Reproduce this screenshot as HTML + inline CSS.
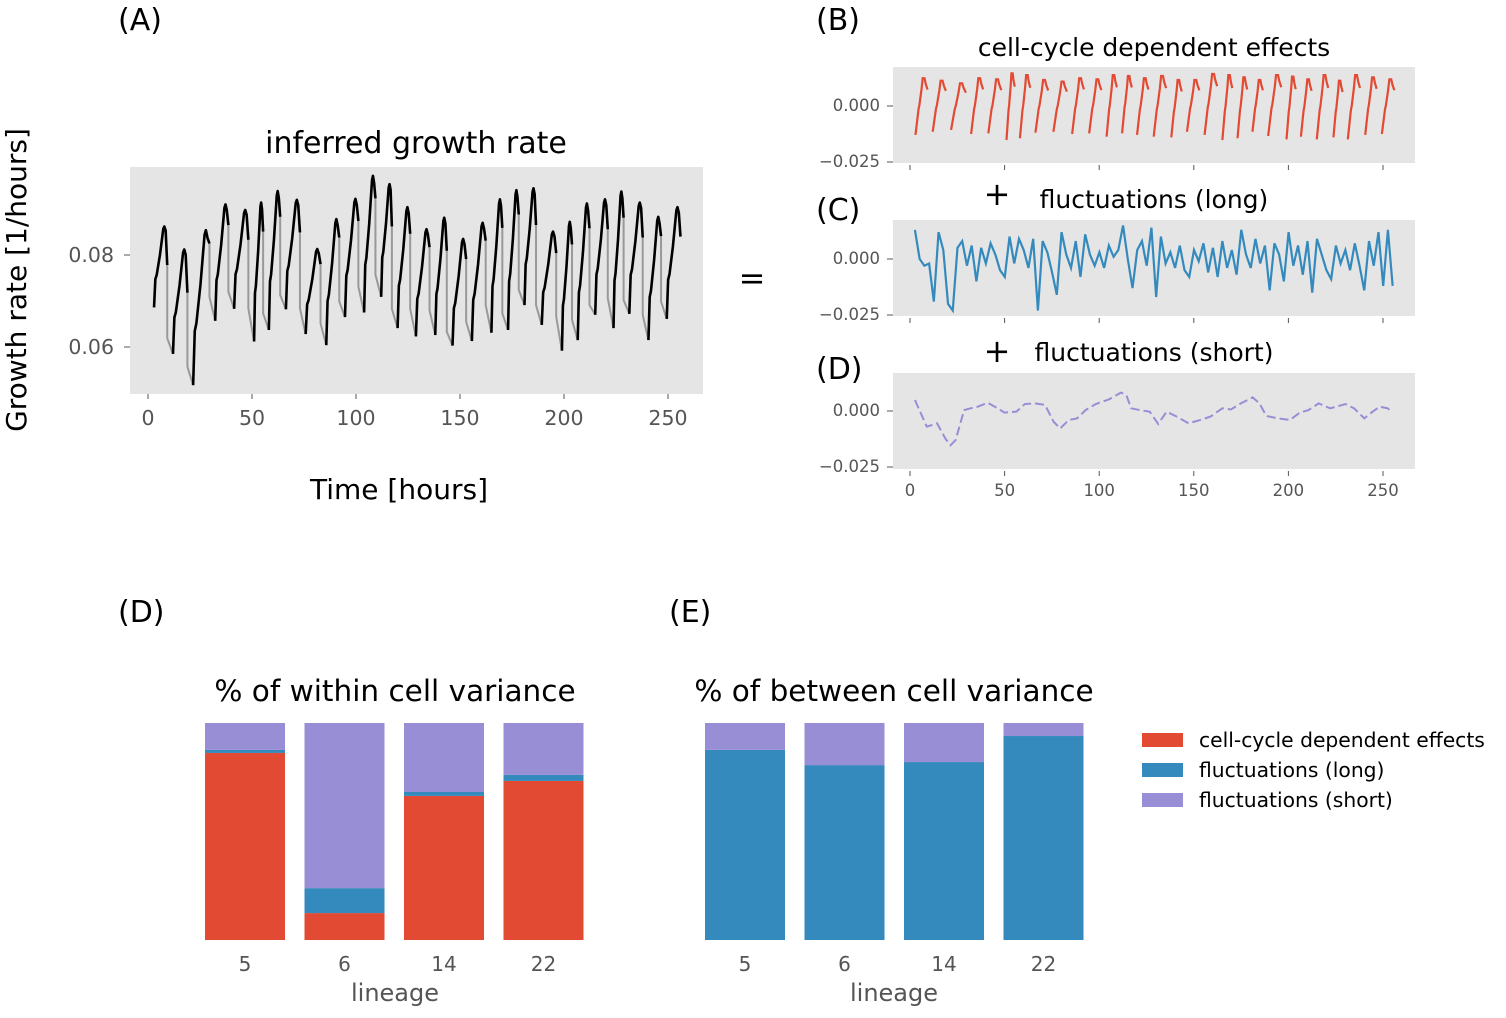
<!DOCTYPE html>
<html><head><meta charset="utf-8">
<style>
html,body{margin:0;padding:0;background:#fff;}
svg{display:block;font-family:"DejaVu Sans","Liberation Sans",sans-serif;}
</style></head>
<body>
<svg id="fig" width="1506" height="1018" viewBox="0 0 1506 1018">
<rect width="1506" height="1018" fill="#fff"/>
<g id="static">
<text x="118" y="30" font-size="30">(A)</text>
<text x="816" y="30" font-size="30">(B)</text>
<text x="816" y="220" font-size="30">(C)</text>
<text x="816" y="379" font-size="30">(D)</text>
<text x="118" y="622" font-size="30">(D)</text>
<text x="669" y="622" font-size="30">(E)</text>
<text x="416" y="153" font-size="30" text-anchor="middle">inferred growth rate</text>
<text x="1154" y="56" font-size="25" text-anchor="middle">cell-cycle dependent effects</text>
<text x="997" y="205" font-size="32" text-anchor="middle">+</text>
<text x="1154" y="208" font-size="25" text-anchor="middle">fluctuations (long)</text>
<text x="997" y="362" font-size="32" text-anchor="middle">+</text>
<text x="1154" y="361" font-size="25" text-anchor="middle">fluctuations (short)</text>
<text x="752" y="289" font-size="32" text-anchor="middle">=</text>
<text x="399" y="499" font-size="28" text-anchor="middle">Time [hours]</text>
<text transform="translate(26,280) rotate(-90)" font-size="28" text-anchor="middle">Growth rate [1/hours]</text>
<text x="395" y="701" font-size="29.5" text-anchor="middle">% of within cell variance</text>
<text x="894" y="701" font-size="29.5" text-anchor="middle">% of between cell variance</text>
<text x="395" y="1001" font-size="24" fill="#555" text-anchor="middle">lineage</text>
<text x="894" y="1001" font-size="24" fill="#555" text-anchor="middle">lineage</text>
<g>
<rect x="1142" y="733" width="41" height="14" fill="#E24A33"/>
<text x="1199" y="747" font-size="20.3">cell-cycle dependent effects</text>
<rect x="1142" y="763" width="41" height="14" fill="#348ABD"/>
<text x="1199" y="777" font-size="20.3">fluctuations (long)</text>
<rect x="1142" y="793" width="41" height="14" fill="#988ED5"/>
<text x="1199" y="807" font-size="20.3">fluctuations (short)</text>
</g>
</g>
<g id="dyn"></g>
</svg>
<script>
// ---- Panel A data (cycles) ----
const cycleStart = [2.9,12.0,21.7,32.3,41.4,51.0,58.1,66.3,75.8,85.7,94.7,103.9,112.1,120.0,128.8,138.1,146.4,155.7,165.1,173.1,181.0,189.3,199.0,206.6,215.0,223.8,231.4,240.6,249.4];
const cycleLastEnd = 256.0;
const growthStart = [0.0686,0.0585,0.0517,0.0657,0.0683,0.0612,0.0637,0.0682,0.0628,0.0604,0.0665,0.0675,0.0709,0.0641,0.0623,0.0626,0.0603,0.0613,0.0631,0.0637,0.0691,0.0648,0.0592,0.0615,0.0670,0.0641,0.0672,0.0615,0.0661];
const growthPeak = [0.0862,0.0812,0.0854,0.0910,0.0898,0.0914,0.0939,0.0920,0.0813,0.0878,0.0922,0.0972,0.0954,0.0904,0.0856,0.0881,0.0835,0.0870,0.0921,0.0941,0.0945,0.0851,0.0872,0.0912,0.0921,0.0938,0.0914,0.0883,0.0904];
const growthEnd = [0.0778,0.0718,0.0825,0.0865,0.0833,0.0851,0.0883,0.0849,0.0780,0.0838,0.0874,0.0923,0.0862,0.0846,0.0817,0.0809,0.0791,0.0831,0.0859,0.0888,0.0865,0.0804,0.0823,0.0858,0.0856,0.0881,0.0838,0.0841,0.0840];
const growthDrop = [0.0619,0.0557,0.0709,0.0720,0.0684,0.0673,0.0713,0.0684,0.0651,0.0699,0.0731,0.0757,0.0683,0.0683,0.0680,0.0633,0.0655,0.0691,0.0673,0.0724,0.0691,0.0666,0.0659,0.0691,0.0706,0.0702,0.0670,0.0699];
const timeTicks = [0,50,100,150,200,250];
const growthTicks = [0.08,0.06];
// ---- Panel B data ----
const ccStart = [-0.0129,-0.0115,-0.0107,-0.0125,-0.0122,-0.0152,-0.0144,-0.0119,-0.0115,-0.0125,-0.0122,-0.0137,-0.0122,-0.0129,-0.0137,-0.0140,-0.0115,-0.0129,-0.0152,-0.0144,-0.0115,-0.0134,-0.0149,-0.0137,-0.0149,-0.0140,-0.0149,-0.0129,-0.0125];
const ccPeak = [0.0124,0.0113,0.0101,0.0124,0.0119,0.0146,0.0138,0.0116,0.0109,0.0124,0.0119,0.0138,0.0134,0.0124,0.0134,0.0116,0.0116,0.0143,0.0138,0.0128,0.0116,0.0138,0.0131,0.0119,0.0138,0.0113,0.0138,0.0128,0.0119];
const compTicks = [0.000,-0.025];
// ---- Panel C data ----
const longT0 = 2.6, longDt = 2.5;
const longValues = [0.013,0.000,-0.003,-0.002,-0.019,0.012,0.004,-0.020,-0.023,0.005,0.008,-0.003,0.006,-0.010,0.005,-0.002,0.007,0.002,-0.005,-0.008,0.010,-0.002,0.009,0.004,-0.004,0.009,-0.023,0.008,0.003,-0.006,-0.016,0.012,0.002,-0.004,0.008,-0.008,0.011,0.002,-0.003,0.003,-0.004,0.006,0.001,0.004,0.015,0.000,-0.013,0.004,0.008,-0.003,0.014,-0.017,0.010,-0.002,0.003,-0.004,0.006,-0.005,-0.008,0.004,-0.001,0.007,-0.006,0.005,-0.008,0.008,-0.004,0.004,-0.007,0.013,0.002,-0.004,0.009,-0.002,0.006,-0.014,0.007,0.002,-0.010,0.012,-0.003,0.006,-0.007,0.008,-0.015,0.009,0.002,-0.005,-0.009,0.006,-0.002,0.004,-0.005,0.007,-0.003,-0.014,0.008,-0.003,0.012,-0.012,0.013,-0.012];
// ---- Panel D data ----
const shortTimes = [2.6,8.9,14.3,18.7,21.4,24.1,28.6,32.1,35.7,41.0,46.4,49.9,56.2,60.7,66.0,71.4,75.9,79.4,83.9,88.3,92.8,98.2,105.2,111.5,114.3,116.9,121.4,126.7,131.2,135.6,141.0,147.2,153.5,158.8,165.1,169.6,174.9,181.1,184.7,188.3,194.5,200.8,206.1,210.6,216.0,222.1,230.2,234.7,240.1,244.5,248.1,252.5,254.8];
const shortValues = [0.0049,-0.0070,-0.0055,-0.0123,-0.0153,-0.0130,0.0004,0.0012,0.0019,0.0037,0.0012,-0.0007,-0.0003,0.0031,0.0034,0.0027,-0.0048,-0.0078,-0.0040,-0.0033,0.0004,0.0031,0.0052,0.0082,0.0072,0.0012,0.0004,-0.0003,-0.0058,-0.0003,-0.0025,-0.0055,-0.0040,-0.0025,0.0012,0.0007,0.0034,0.0061,0.0034,-0.0022,-0.0033,-0.0040,-0.0007,0.0004,0.0034,0.0012,0.0031,0.0012,-0.0033,-0.0003,0.0019,0.0012,-0.0007];
// ---- Bars ----
const lineages = ["5","6","14","22"];
const withinCC = [86.2,12.4,66.4,73.3];
const withinLong = [1.4,11.5,1.8,2.8];
const withinShort = [12.4,76.1,31.8,23.9];
const betweenCC = [0,0,0,0];
const betweenLong = [87.6,80.6,82.0,94.0];
const betweenShort = [12.4,19.4,18.0,6.0];

const NS="http://www.w3.org/2000/svg";
const dyn=document.getElementById('dyn');
function mk(tag,attrs,parent){const e=document.createElementNS(NS,tag);for(const k in attrs)e.setAttribute(k,attrs[k]);(parent||dyn).appendChild(e);return e;}

const ax=t=>148+t*2.08, ay=v=>255-(v-0.08)*4600;
let r=mk('rect',{x:130,y:167,width:573,height:227,fill:'#E5E5E5'});


timeTicks.forEach(t=>{
  mk('line',{x1:ax(t),x2:ax(t),y1:394,y2:399,stroke:'#555','stroke-width':1});
  const tx=mk('text',{x:ax(t),y:425,'font-size':20.5,fill:'#555','text-anchor':'middle'});tx.textContent=t;
  
  
});
growthTicks.forEach(v=>{
  mk('line',{x1:124,x2:130,y1:ay(v),y2:ay(v),stroke:'#555','stroke-width':1});
  const tx=mk('text',{x:114,y:ay(v)+7,'font-size':20.5,fill:'#555','text-anchor':'end'});tx.textContent=v.toFixed(2);
  
  
});
const shapeF=[0,0.1,0.2,0.45,0.7,0.78,0.88,1.0];
const shapeV=[0,0.35,0.4,0.65,0.97,1.0,0.95,null];
const cyc=[];
for(let i=0;i<cycleStart.length;i++){
  const s=cycleStart[i], e=(i+1<cycleStart.length?cycleStart[i+1]-2.75:cycleLastEnd);
  cyc.push([s,e]);
}
for(let i=0;i<cycleStart.length-1;i++){
  const e=cyc[i][1];
  const p=mk('polyline',{points:`${ax(e)},${ay(growthEnd[i])} ${ax(e)},${ay(growthDrop[i])} ${ax(cycleStart[i+1])},${ay(growthStart[i+1])}`,fill:'none',stroke:'#999','stroke-width':2});
  
  
}
for(let i=0;i<cycleStart.length;i++){
  const [s,e]=cyc[i];const pts=[];
  shapeF.forEach((f,k)=>{
    const t=s+f*(e-s);
    const v=shapeV[k]===null?growthEnd[i]:growthStart[i]+shapeV[k]*(growthPeak[i]-growthStart[i]);
    pts.push(ax(t)+','+ay(v));
  });
  const p=mk('polyline',{points:pts.join(' '),fill:'none',stroke:'#000','stroke-width':2.6,'stroke-linejoin':'round'});
  
  
}

const bx=t=>910+t*1.892;
function compPanel(top,zeroY,name,showX){
  const rr=mk('rect',{x:893,y:top,width:522,height:96,fill:'#E5E5E5'});
  
  
  const yf=v=>zeroY-v*2240;
  compTicks.forEach(v=>{
    mk('line',{x1:887,x2:893,y1:yf(v),y2:yf(v),stroke:'#555'});
    const tx=mk('text',{x:880,y:yf(v)+5,'font-size':16.5,fill:'#555','text-anchor':'end'});
    tx.textContent=(v<0?'\u2212':'')+Math.abs(v).toFixed(3);
    
    
  });
  timeTicks.forEach(t=>{
    mk('line',{x1:bx(t),x2:bx(t),y1:top+96+2,y2:top+96+7,stroke:'#555'});
    if(showX){const tx=mk('text',{x:bx(t),y:top+123,'font-size':16.5,fill:'#555','text-anchor':'middle'});tx.textContent=t;
      
      }
  });
  return yf;
}
const yB=compPanel(67,106,'cellcycle',false);
for(let i=0;i<cycleStart.length;i++){
  const [s,e]=cyc[i];const d=e-s;const st=ccStart[i],pk=ccPeak[i];
  const pts=[[0,st],[0.25,st+0.45*(pk-st)],[0.32,st+0.52*(pk-st)],[0.5,st+0.8*(pk-st)],[0.6,pk],[0.75,pk],[0.85,pk-0.1*(pk-st)],[1,pk-0.2*(pk-st)]]
    .map(([f,v])=>bx(s+f*d)+','+yB(v));
  const p=mk('polyline',{points:pts.join(' '),fill:'none',stroke:'#E24A33','stroke-width':2.2});
  
  
}
const yC=compPanel(220,259,'long',false);
{
  const pts=longValues.map((v,i)=>bx(longT0+i*longDt)+','+yC(v));
  const p=mk('polyline',{points:pts.join(' '),fill:'none',stroke:'#348ABD','stroke-width':2.2});
  
  
}
const yD=compPanel(373,411,'short',true);
{
  const pts=shortValues.map((v,i)=>bx(shortTimes[i])+','+yD(v));
  const p=mk('polyline',{points:pts.join(' '),fill:'none',stroke:'#988ED5','stroke-width':2,'stroke-dasharray':'9,4'});
  
  
}

function bars(x0,cc,lg,sh,name){
  const bottom=940,h=217;
  lineages.forEach((lab,i)=>{
    const cx=x0+i*99.5;let y=bottom;
    [[cc[i],'#E24A33','cellcycle'],[lg[i],'#348ABD','long'],[sh[i],'#988ED5','short']].forEach(([v,c,n])=>{
      const hh=v/100*h;y-=hh;
      const b=mk('rect',{x:cx-40,y:y,width:80,height:hh,fill:c});
      
      
    });
    const tx=mk('text',{x:cx,y:971,'font-size':20,fill:'#555','text-anchor':'middle'});tx.textContent=lab;
    
    
  });
}
bars(245,withinCC,withinLong,withinShort,'within');
bars(745,betweenCC,betweenLong,betweenShort,'between');
</script>
</body></html>
